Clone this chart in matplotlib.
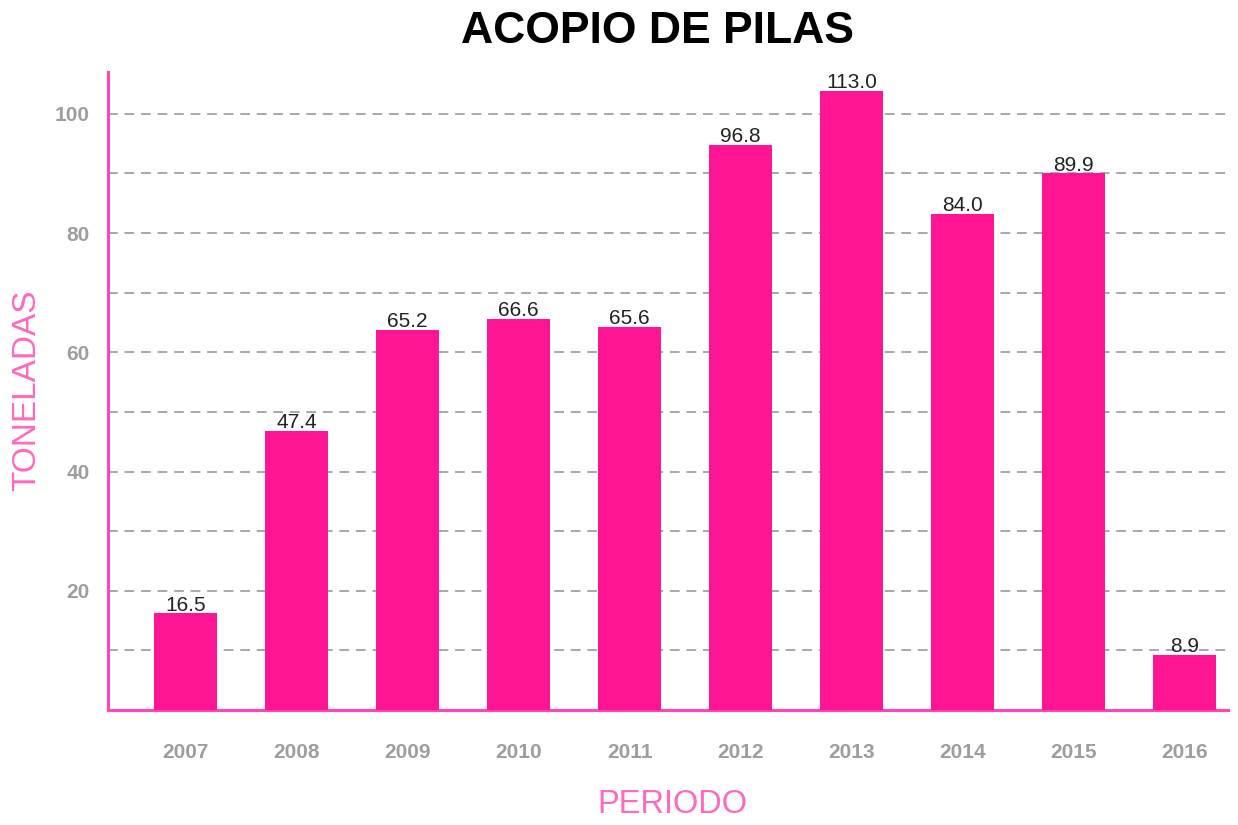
import matplotlib.pyplot as plt

plt.rcParams["font.family"] = ["Liberation Sans Narrow", "Liberation Sans", "DejaVu Sans"]

# data
years = ["2007", "2008", "2009", "2010", "2011", "2012", "2013", "2014", "2015", "2016"]
value_labels = ["16.5", "47.4", "65.2", "66.6", "65.6", "96.8", "113.0", "84.0", "89.9", "8.9"]
# bar heights as drawn in the picture (2013 bar is capped below its label)
bar_heights = [16.2, 46.8, 63.8, 65.6, 64.2, 94.8, 103.8, 83.2, 90.0, 9.2]

pink_bar = "#ff1493"
pink_axis = "#ff45b8"
pink_text = "#ff69bf"
grey_tick = "#9e9e9e"

fig = plt.figure(figsize=(12.38, 8.25), dpi=100)
ax = fig.add_axes([0.0872, 0.1394, 0.9048, 0.7733])

x = list(range(len(years)))
ax.bar(x, bar_heights, width=0.57, color=pink_bar, zorder=3)

for xi, h, lab in zip(x, bar_heights, value_labels):
    ax.text(xi, h - 0.2, lab, ha="center", va="bottom", fontsize=15, color="#222222", zorder=4)

# dashed grid every 10
for g in range(10, 101, 10):
    ax.axhline(g, color="#a8a8a8", linewidth=1.4, linestyle=(0, (5, 3.5)), zorder=1)

ax.set_xlim(-0.70, 9.39)
ax.set_ylim(0, 107)
ax.set_yticks([20, 40, 60, 80, 100])
ax.set_xticks(x)
ax.set_xticklabels(years)
ax.tick_params(axis="both", length=0, labelsize=15, labelcolor=grey_tick)
ax.tick_params(axis="x", pad=24)
ax.tick_params(axis="y", pad=13)
for lab in ax.get_xticklabels() + ax.get_yticklabels():
    lab.set_fontweight("bold")

for side in ["top", "right"]:
    ax.spines[side].set_visible(False)
for side in ["left", "bottom"]:
    ax.spines[side].set_color(pink_axis)
    ax.spines[side].set_linewidth(2.2)

fig.text(0.531, 0.962, "ACOPIO DE PILAS", ha="center", va="center",
         fontsize=32, fontweight="bold", color="black",
         family=["Liberation Sans", "DejaVu Sans"])
fig.text(0.543, 0.006, "PERIODO", ha="center", va="bottom", fontsize=23.5,
         color=pink_text, family=["Liberation Sans", "DejaVu Sans"])
fig.text(0.022, 0.527, "TONELADAS", ha="center", va="center", rotation=90,
         fontsize=24, color=pink_text, family=["Liberation Sans", "DejaVu Sans"])

fig.savefig("out.png", dpi=100)
